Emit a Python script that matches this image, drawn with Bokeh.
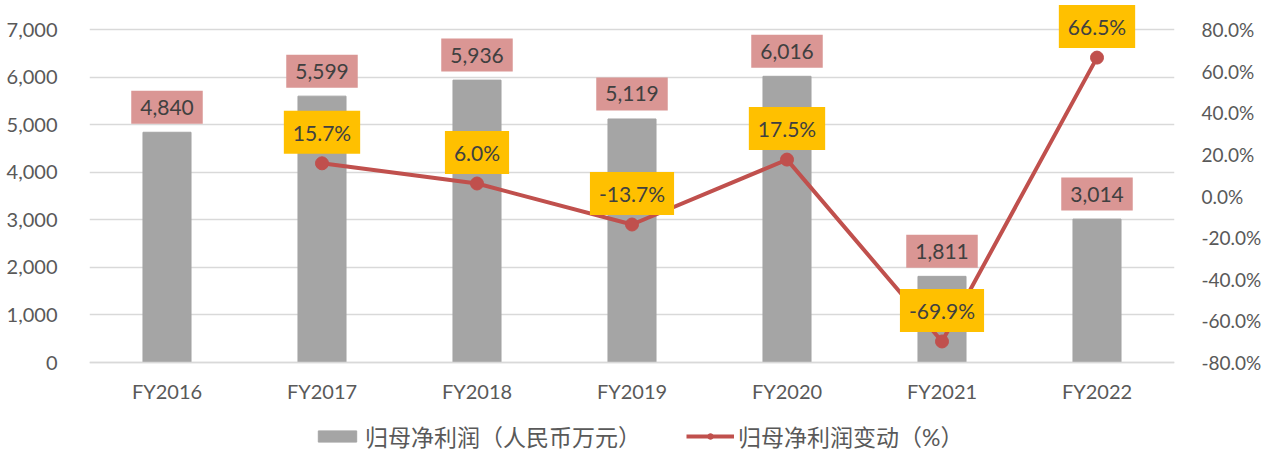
from bokeh.plotting import figure
from bokeh.models import (Range1d, LinearAxis, FixedTicker, NumeralTickFormatter,
                          Label, Legend, LegendItem, ColumnDataSource)
from bokeh.embed import file_html
from bokeh.resources import INLINE

categories = ["FY2016", "FY2017", "FY2018", "FY2019", "FY2020", "FY2021", "FY2022"]
profit = [4840, 5599, 5936, 5119, 6016, 1811, 3014]
change_pct = [None, 15.7, 6.0, -13.7, 17.5, -69.9, 66.5]
left_ticks = [0, 1000, 2000, 3000, 4000, 5000, 6000, 7000]
right_ticks = [-80, -60, -40, -20, 0, 20, 40, 60, 80]

FONT = "Lato, 'Noto Sans CJK SC', sans-serif"
TXT = "#595959"

# frame covers the full height; gridlines 0..7000 occupy 333 px, with 29 px above, 91 px below
TOP_PAD = 29 / 333
BOT_PAD = 91 / 333
idx = list(range(len(categories)))
p = figure(width=1264, height=453, output_backend="svg", toolbar_location=None,
           x_range=Range1d(-0.5, len(categories) - 0.5),
           y_range=Range1d(-7000 * BOT_PAD, 7000 * (1 + TOP_PAD)),
           min_border_left=89, min_border_right=86, min_border_top=0, min_border_bottom=0)
p.outline_line_color = None
p.background_fill_color = "white"
p.border_fill_color = "white"
p.extra_y_ranges = {"pct": Range1d(-80 - 160 * BOT_PAD, 80 + 160 * TOP_PAD)}

# bars
bar_src = ColumnDataSource(dict(x=idx, top=profit))
bars = p.vbar(x="x", top="top", bottom=0, width=0.31, source=bar_src, color="#A5A5A5")

# line
lx = [i for i, v in zip(idx, change_pct) if v is not None]
ly = [v for v in change_pct if v is not None]
line_src = ColumnDataSource(dict(x=lx, y=ly))
ln = p.line(x="x", y="y", source=line_src, y_range_name="pct", line_color="#C0504D", line_width=4)
mk = p.scatter(x="x", y="y", source=line_src, y_range_name="pct", size=13,
               fill_color="#C0504D", line_color="#C0504D")

# axes
p.xaxis.fixed_location = 0
p.xaxis.ticker = FixedTicker(ticks=idx)
p.xaxis.major_label_overrides = {i: c for i, c in zip(idx, categories)}
p.xaxis.axis_line_color = "#D9D9D9"
p.xaxis.axis_line_width = 1.5
p.xaxis.major_tick_line_color = None
p.xaxis.minor_tick_line_color = None
p.xaxis.major_label_text_font = FONT
p.xaxis.major_label_text_font_size = "20px"
p.xaxis.major_label_text_color = TXT
p.xaxis.major_label_standoff = 10
p.xgrid.grid_line_color = None

p.yaxis.ticker = FixedTicker(ticks=left_ticks)
p.yaxis.formatter = NumeralTickFormatter(format="0,0")
p.yaxis.axis_line_color = None
p.yaxis.major_tick_line_color = None
p.yaxis.minor_tick_line_color = None
p.yaxis.major_label_text_font = FONT
p.yaxis.major_label_text_font_size = "20px"
p.yaxis.major_label_text_color = TXT
p.yaxis.major_label_standoff = 26
p.ygrid.ticker = FixedTicker(ticks=left_ticks)
p.ygrid.grid_line_color = "#D9D9D9"
p.ygrid.grid_line_width = 1.5

ra = LinearAxis(y_range_name="pct", ticker=FixedTicker(ticks=right_ticks))
ra.formatter = NumeralTickFormatter(format="0.0")
ra.major_label_overrides = {t: f"{t:.1f}%" for t in right_ticks}
ra.axis_line_color = None
ra.major_tick_line_color = None
ra.minor_tick_line_color = None
ra.major_label_text_font = FONT
ra.major_label_text_font_size = "19px"
ra.major_label_text_color = TXT
ra.major_label_standoff = 21
p.add_layout(ra, "right")

# data labels
for i, v in zip(idx, profit):
    p.add_layout(Label(x=i, y=v, text=f"{v:,}", y_offset=25, text_align="center",
                       text_baseline="middle", text_font=FONT, text_font_size="21px",
                       text_color="#404040", background_fill_color="#DA9694",
                       padding=9))
for i, v in zip(lx, ly):
    p.add_layout(Label(x=i, y=v, y_range_name="pct", text=f"{v:.1f}%", y_offset=31,
                       text_align="center", text_baseline="middle", text_font=FONT,
                       text_font_size="21px", text_color="#404040",
                       background_fill_color="#FFC000", padding=9))

legend = Legend(items=[LegendItem(label="归母净利润（人民币万元）", renderers=[bars]),
                       LegendItem(label="归母净利润变动（%）", renderers=[ln, mk])],
                orientation="horizontal", location=(224, 0), spacing=45,
                padding=0, margin=0, glyph_width=48, glyph_height=14, label_height=32,
                label_standoff=4, label_text_font=FONT, label_text_font_size="23px",
                label_text_color=TXT, background_fill_alpha=0, border_line_color=None)
p.add_layout(legend, "center")

open("out.html", "w").write(file_html(p, INLINE))
